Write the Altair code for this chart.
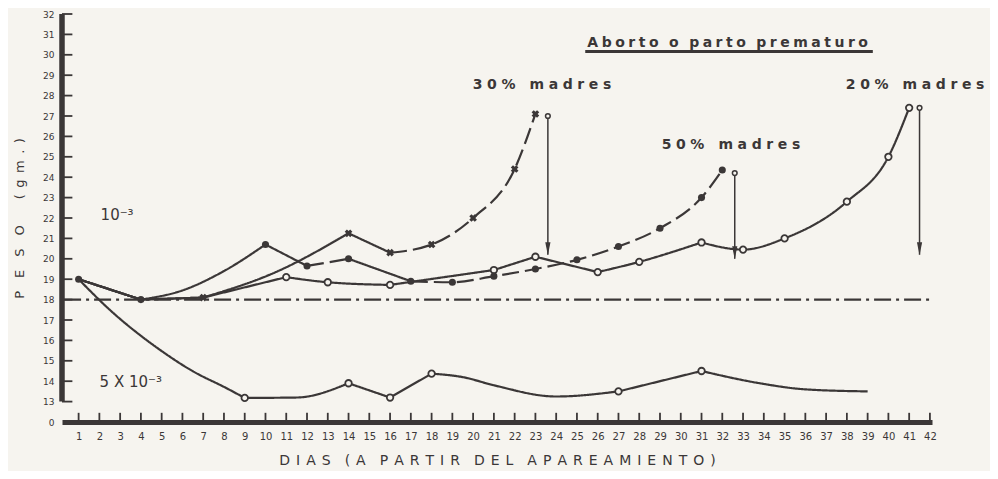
import altair as alt
import pandas as pd

# ---------------- data ----------------
days_axis = list(range(1, 43))
weight_ticks = list(range(13, 33))
weight_labels = list(range(12, 33))  # 12 is shown as the broken-axis "0"

# 10^-3, 20% madres (open circles, solid)
open_days = [1, 4, 7, 11, 13, 16, 21, 23, 26, 28, 31, 33, 35, 38, 40, 41]
open_w = [19.0, 18.0, 18.1, 19.1, 18.85, 18.72, 19.45, 20.1, 19.35, 19.85, 20.8, 20.45, 21.0, 22.8, 25.0, 27.4]
open_marked = [11, 13, 16, 21, 23, 26, 28, 31, 33, 35, 38, 40, 41]
open_breaks = [1, 4, 7, 11, 16, 21, 23, 26, 31, 41]
open_styles = ["solid"] * 9

# 10^-3, 50% madres (filled circles)
fill_days = [1, 4, 6, 8, 10, 12, 14, 17, 19, 21, 23, 25, 27, 29, 31, 32]
fill_w = [19.0, 18.0, 18.45, 19.4, 20.7, 19.65, 20.0, 18.9, 18.85, 19.15, 19.5, 19.95, 20.6, 21.5, 23.0, 24.35]
fill_marked = [1, 4, 10, 12, 14, 17, 19, 21, 23, 25, 27, 29, 31, 32]
fill_breaks = [1, 4, 10, 12, 14, 17, 32]
fill_styles = ["solid", "solid", "solid", "dash", "solid", "dash"]

# 10^-3, 30% madres (x markers)
x_days = [1, 4, 7, 10.5, 14, 16, 18, 20, 22, 23]
x_w = [19.0, 18.0, 18.1, 19.35, 21.25, 20.3, 20.7, 22.0, 24.4, 27.1]
x_marked = [7, 14, 16, 18, 20, 22, 23]
x_breaks = [1, 4, 7, 14, 16, 23]
x_styles = ["solid", "solid", "solid", "solid", "dash"]

# 5x10^-3 (open circles, solid)
low_days = [1, 2.5, 4.9, 6.5, 8.1, 9, 11.5, 14, 16, 18, 19.5, 21, 24, 27, 31, 33.8, 36, 39]
low_w = [19.0, 17.5, 15.55, 14.49, 13.67, 13.18, 13.2, 13.9, 13.2, 14.37, 14.2, 13.8, 13.25, 13.5, 14.5, 13.9, 13.6, 13.5]
low_marked = [9, 14, 16, 18, 27, 31]
low_breaks = [1, 9, 14, 16, 18, 27, 31, 39]
low_styles = ["solid"] * 7

# control level (dash-dot)
control_days = [0.3, 42.0]
control_w = [18.0, 18.0]

# abortion / premature birth arrows
arrow_days = [23.6, 32.6, 41.5]
arrow_top = [27.0, 24.2, 27.4]
arrow_bottom = [20.2, 20.0, 20.2]

# annotation texts
madres_labels = ["30% madres", "50% madres", "20% madres"]
madres_days = [19.98, 29.08, 37.95]
madres_w = [28.54, 25.6, 28.54]
dose_labels = ["10\u207b\u00b3", "5 X 10\u207b\u00b3"]
dose_days = [2.06, 2.01]
dose_w = [22.17, 13.98]
heading = "Aborto o parto prematuro"
heading_day, heading_w = 25.5, 30.6
underline_days = [25.4, 39.25]
underline_w = 30.16

x_title = "DIAS (A PARTIR DEL APAREAMIENTO)"
y_title_a, y_title_b = "PESO", "(gm.)"

# ---------------- helpers ----------------
INK = "#3b3737"
PAPER = "#f6f4ef"
FONT = "DejaVu Sans"
X_MIN, X_MAX = 0.2, 42.1
Y_MIN, Y_MAX = 12, 32


def track(text, sep="\u2004", word="\u2003"):
    return word.join(sep.join(list(w)) for w in text.split(" "))


def segments(name, days, ws, breaks, styles):
    rows = []
    for i, (a, b) in enumerate(zip(breaks[:-1], breaks[1:])):
        for d, w in zip(days, ws):
            if a <= d <= b:
                rows.append(dict(series=name, seg=f"{name}-{i}", style=styles[i], day=d, w=w))
    return rows


def marked(days, ws, keep):
    return [dict(day=d, w=w) for d, w in zip(days, ws) if d in keep]


rows = []
rows += segments("open", open_days, open_w, open_breaks, open_styles)
rows += segments("fill", fill_days, fill_w, fill_breaks, fill_styles)
rows += segments("x", x_days, x_w, x_breaks, x_styles)
rows += segments("low", low_days, low_w, low_breaks, low_styles)
rows += segments("control", control_days, control_w, control_days, ["dashdot"])
lines_df = pd.DataFrame(rows)

open_pts = pd.DataFrame(marked(open_days, open_w, open_marked) + marked(low_days, low_w, low_marked))
fill_pts = pd.DataFrame(marked(fill_days, fill_w, fill_marked))
x_pts = pd.DataFrame(marked(x_days, x_w, x_marked))
arrows_df = pd.DataFrame(dict(day=arrow_days, w=arrow_top, w2=arrow_bottom))
heads_df = pd.DataFrame(dict(day=arrow_days, w=arrow_bottom))
tops_df = pd.DataFrame(dict(day=arrow_days, w=arrow_top))

xtick_df = pd.DataFrame(dict(day=days_axis, w=[Y_MIN] * len(days_axis), w2=[Y_MIN + 0.45] * len(days_axis)))
ytick_df = pd.DataFrame(dict(w=weight_ticks, day=[X_MIN] * len(weight_ticks), day2=[X_MIN + 0.5] * len(weight_ticks)))
ybar_df = pd.DataFrame(dict(day=[X_MIN], w=[13], w2=[32]))

madres_df = pd.DataFrame(dict(label=[track(s) for s in madres_labels], day=madres_days, w=madres_w))
dose_df = pd.DataFrame(dict(label=dose_labels, day=dose_days, w=dose_w))
head_df = pd.DataFrame(dict(label=[track(heading, sep="\u2005", word="\u2002\u2005")], day=[heading_day], w=[heading_w]))
under_df = pd.DataFrame(dict(day=[underline_days[0]], day2=[underline_days[1]], w=[underline_w]))

xs = alt.Scale(domain=[X_MIN, X_MAX], nice=False, zero=False)
ys = alt.Scale(domain=[Y_MIN, Y_MAX], nice=False, zero=False)

xaxis = alt.Axis(
    values=days_axis, format="d", ticks=False, grid=False,
    domain=True, domainColor=INK, domainWidth=5,
    labelFont=FONT, labelFontSize=10, labelColor=INK, labelPadding=9,
    labelOverlap=False, labelFlush=False,
    title=track(x_title, sep="\u2004\u200a", word="\u2003"), titleFont=FONT, titleFontSize=14, titleColor=INK,
    titleFontWeight="normal", titlePadding=12,
)
yaxis = alt.Axis(
    values=weight_labels, labelExpr="datum.value == 12 ? '0' : datum.label",
    ticks=False, grid=False, domain=False, labelOverlap=False,
    labelFont=FONT, labelFontSize=9, labelColor=INK, labelPadding=8,
    title=track(y_title_a, sep="\u2003") + "\u2003\u2003" + track(y_title_b, sep="\u2002"),
    titleFont=FONT, titleFontSize=13, titleColor=INK, titleFontWeight="normal", titlePadding=16,
)


def X():
    return alt.X("day:Q", scale=xs, axis=xaxis)


def Y():
    return alt.Y("w:Q", scale=ys, axis=yaxis)


lines = alt.Chart(lines_df).mark_line(interpolate="monotone", strokeWidth=2.2, color=INK, strokeCap="butt").encode(
    x=X(),
    y=Y(),
    detail="seg:N",
    order="day:Q",
    strokeDash=alt.StrokeDash(
        "style:N",
        scale=alt.Scale(domain=["solid", "dash", "dashdot"], range=[[1, 0], [17, 6], [17, 5, 3, 5]]),
        legend=None,
    ),
)

xticks = alt.Chart(xtick_df).mark_rule(color=INK, strokeWidth=1.8).encode(x=X(), y=Y(), y2="w2:Q")
yticks = alt.Chart(ytick_df).mark_rule(color=INK, strokeWidth=1.8).encode(y=Y(), x=X(), x2="day2:Q")
ybar = alt.Chart(ybar_df).mark_rule(color=INK, strokeWidth=5.5).encode(x=X(), y=Y(), y2="w2:Q")

open_marks = alt.Chart(open_pts).mark_point(
    shape="circle", size=42, fill=PAPER, fillOpacity=1, stroke=INK, strokeWidth=1.8, opacity=1
).encode(x=X(), y=Y())
fill_marks = alt.Chart(fill_pts).mark_point(shape="circle", size=50, filled=True, color=INK, opacity=1).encode(x=X(), y=Y())
x_marks = alt.Chart(x_pts).mark_point(shape="cross", angle=45, size=60, filled=True, color=INK, opacity=1).encode(x=X(), y=Y())

arrow_rules = alt.Chart(arrows_df).mark_rule(color=INK, strokeWidth=1.5).encode(x=X(), y=Y(), y2="w2:Q")
arrow_heads = alt.Chart(heads_df).mark_point(
    shape="M-0.4,-1L0.4,-1L0,1Z", size=170, filled=True, color=INK, opacity=1, yOffset=-6
).encode(x=X(), y=Y())
arrow_tops = alt.Chart(tops_df).mark_point(
    shape="circle", size=22, fill=PAPER, fillOpacity=1, stroke=INK, strokeWidth=1.5, opacity=1
).encode(x=X(), y=Y())

madres_text = alt.Chart(madres_df).mark_text(
    align="left", baseline="middle", font=FONT, fontSize=14, fontWeight="bold", color=INK
).encode(x=X(), y=Y(), text="label:N")
dose_text = alt.Chart(dose_df).mark_text(
    align="left", baseline="middle", font=FONT, fontSize=15, color=INK
).encode(x=X(), y=Y(), text="label:N")
head_text = alt.Chart(head_df).mark_text(
    align="left", baseline="middle", font=FONT, fontSize=14, fontWeight="bold", color=INK
).encode(x=X(), y=Y(), text="label:N")
underline = alt.Chart(under_df).mark_rule(color=INK, strokeWidth=3).encode(x=X(), x2="day2:Q", y=Y())

chart = alt.layer(
    lines, xticks, yticks, ybar, arrow_rules, arrow_heads, arrow_tops,
    open_marks, fill_marks, x_marks, madres_text, dose_text, head_text, underline,
).properties(
    width=870, height=408,
    autosize=alt.AutoSizeParams(type="none"),
    padding={"left": 54, "top": 6, "right": 58, "bottom": 49},
    background=PAPER,
).configure_view(stroke=None).configure_axis(labelOverlap=False)

chart.save("out.html", embed_options={"renderer": "svg", "actions": False})
